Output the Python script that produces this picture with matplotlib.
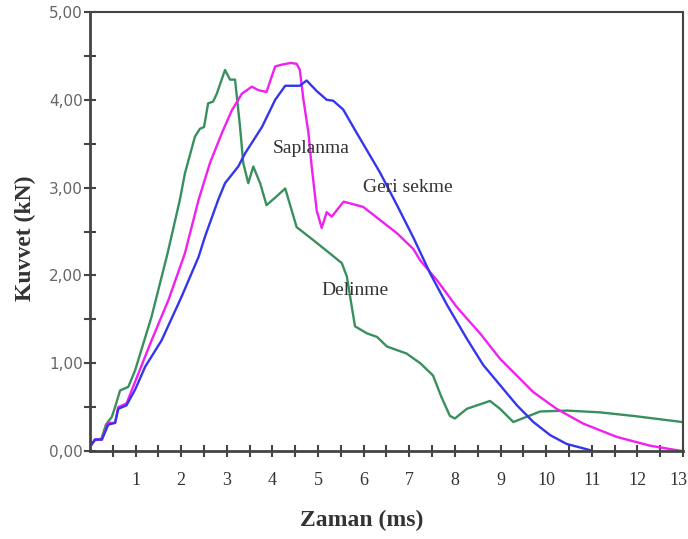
import matplotlib
matplotlib.use("Agg")
import matplotlib.pyplot as plt
import matplotlib.transforms as mtransforms
import numpy as np

# Kuvvet-zaman eğrileri (zaman ms, kuvvet kN)
delinme_t = [0, 0.1, 0.25, 0.35, 0.48, 0.55, 0.66, 0.84, 0.99, 1.35, 1.70, 1.97, 2.08,
             2.30, 2.41, 2.50, 2.59, 2.70, 2.78, 2.96, 3.07, 3.18, 3.29, 3.36, 3.47, 3.58,
             3.73, 3.87, 4.09, 4.28, 4.53, 4.90, 5.26, 5.52, 5.63, 5.74, 5.81, 6.07, 6.29,
             6.51, 6.94, 7.24, 7.52, 7.70, 7.89, 8.0, 8.26, 8.77, 8.99, 9.28, 9.87, 10.46,
             11.18, 11.9, 12.98]
delinme_f = [0.05, 0.12, 0.14, 0.30, 0.39, 0.50, 0.69, 0.73, 0.92, 1.53, 2.25, 2.86, 3.16,
             3.58, 3.67, 3.69, 3.96, 3.98, 4.07, 4.34, 4.23, 4.23, 3.69, 3.28, 3.05, 3.24,
             3.05, 2.80, 2.90, 2.99, 2.55, 2.40, 2.25, 2.14, 1.99, 1.64, 1.42, 1.34, 1.30,
             1.19, 1.11, 1.00, 0.86, 0.62, 0.40, 0.37, 0.48, 0.57, 0.48, 0.33, 0.45, 0.46,
             0.44, 0.40, 0.33]

saplanma_t = [0, 0.11, 0.26, 0.4, 0.55, 0.62, 0.8, 0.99, 1.35, 1.72, 2.08, 2.38, 2.63,
              2.89, 3.11, 3.33, 3.55, 3.69, 3.87, 4.06, 4.20, 4.40, 4.53, 4.60, 4.68, 4.79,
              4.86, 4.97, 5.08, 5.19, 5.30, 5.56, 5.99, 6.36, 6.73, 7.09, 7.24, 7.60, 8.04,
              8.26, 8.55, 8.99, 9.72, 10.23, 10.82, 11.55, 12.28, 12.97]
saplanma_f = [0.05, 0.13, 0.13, 0.32, 0.32, 0.50, 0.54, 0.79, 1.26, 1.72, 2.25, 2.86, 3.28,
              3.62, 3.88, 4.07, 4.15, 4.11, 4.09, 4.38, 4.40, 4.42, 4.41, 4.34, 4.00, 3.62,
              3.24, 2.74, 2.54, 2.72, 2.67, 2.84, 2.78, 2.63, 2.48, 2.30, 2.17, 1.95, 1.64,
              1.51, 1.34, 1.05, 0.67, 0.48, 0.31, 0.16, 0.06, 0.0]

geri_t = [0, 0.11, 0.26, 0.4, 0.55, 0.62, 0.8, 0.99, 1.21, 1.57, 2.01, 2.38, 2.52, 2.81,
          2.96, 3.25, 3.40, 3.77, 4.06, 4.28, 4.60, 4.75, 4.97, 5.19, 5.33, 5.55, 5.85,
          6.36, 6.73, 7.09, 7.46, 7.82, 8.26, 8.62, 8.99, 9.36, 9.72, 10.09, 10.45, 10.96]
geri_f = [0.05, 0.13, 0.13, 0.30, 0.32, 0.48, 0.52, 0.70, 0.96, 1.26, 1.76, 2.21, 2.44, 2.86,
          3.05, 3.24, 3.39, 3.69, 4.00, 4.16, 4.16, 4.22, 4.10, 4.00, 3.99, 3.89, 3.62,
          3.17, 2.80, 2.43, 2.02, 1.67, 1.28, 0.98, 0.75, 0.52, 0.33, 0.18, 0.08, 0.01]

x_ticks = list(range(1, 14))
y_ticks = [0, 1, 2, 3, 4, 5]
y_tick_labels = ["0,00", "1,00", "2,00", "3,00", "4,00", "5,00"]

serif = "Liberation Serif"

fig = plt.figure(figsize=(6.88, 5.39), dpi=100)
ax = fig.add_axes([0.1308, 0.1633, 0.8619, 0.8144])

ax.plot(delinme_t, delinme_f, color="#3a8f5e", lw=1.7)
ax.plot(saplanma_t, saplanma_f, color="#f020f0", lw=1.7)
ax.plot(geri_t, geri_f, color="#3535ee", lw=1.7)

ax.set_xlim(0, 13)
ax.set_ylim(0, 5)

ax.set_xticks(x_ticks)
ax.set_xticklabels([str(v) for v in x_ticks], fontfamily=serif, fontsize=13, color="#333333")
ax.set_xticks(np.arange(0.5, 13, 1.0), minor=True)
ax.set_yticks(y_ticks)
ax.set_yticklabels(y_tick_labels, fontfamily="DejaVu Sans", fontsize=11, color="#666666")
ax.set_yticks(np.arange(0.5, 5, 1.0), minor=True)

ax.tick_params(axis="both", which="both", direction="inout", length=8, width=1.5,
               color="#444444")
ax.tick_params(axis="x", which="major", pad=11)
ax.tick_params(axis="y", which="major", pad=1)

# son etiket kenarda kalmasın
last = ax.get_xticklabels()[-1]
last.set_transform(last.get_transform() +
                   mtransforms.ScaledTranslation(-5 / 100, 0, fig.dpi_scale_trans))

for side in ["left", "bottom"]:
    ax.spines[side].set_linewidth(2.0)
    ax.spines[side].set_color("#444444")
for side in ["top", "right"]:
    ax.spines[side].set_linewidth(1.5)
    ax.spines[side].set_color("#444444")

# eğri isimleri
ax.text(4.85, 3.45, "Saplanma", fontfamily=serif, fontsize=14, color="#333333",
        ha="center", va="center")
ax.text(6.97, 3.0, "Geri sekme", fontfamily=serif, fontsize=14, color="#333333",
        ha="center", va="center")
ax.text(5.81, 1.83, "Delinme", fontfamily=serif, fontsize=14, color="#333333",
        ha="center", va="center")

fig.text(362 / 688, 1 - 520 / 539, "Zaman (ms)", fontfamily=serif, fontsize=17,
         fontweight="bold", color="#333333", ha="center", va="center")
fig.text(25 / 688, 1 - 238 / 539, "Kuvvet (kN)", fontfamily=serif, fontsize=17,
         fontweight="bold", color="#333333", ha="center", va="center", rotation=90)

fig.savefig("out.png", dpi=100)
